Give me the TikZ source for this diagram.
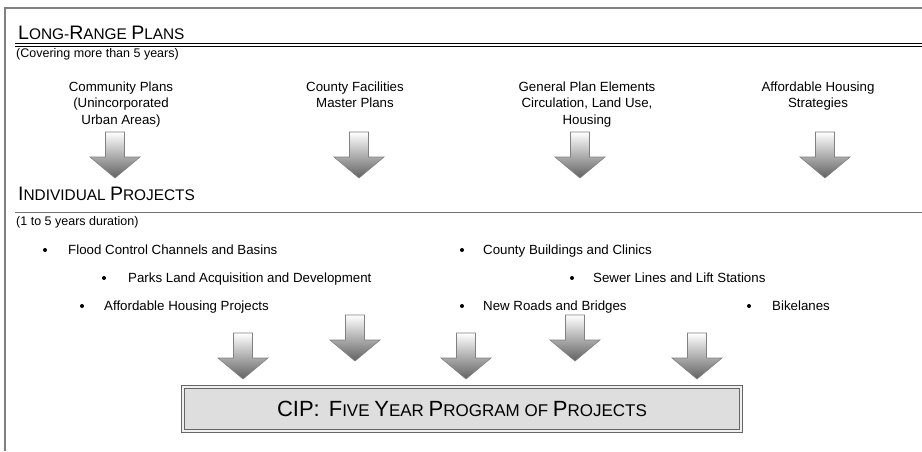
\documentclass[tikz,border=0pt]{standalone}
\usepackage{fontspec}
\setmainfont{Liberation Sans}
% fake small caps: capital size and small-letter size
\newcommand{\HdBig}{\fontsize{19.5}{20}\selectfont}
\newcommand{\HdSmall}{\fontsize{15.4}{16}\selectfont}
\newcommand{\CipBig}{\fontsize{22}{22}\selectfont}
\newcommand{\CipSmall}{\fontsize{17}{17}\selectfont}
% shaded block arrow pointing down: #1 = centre x, #2 = top y
\newcommand{\blockarrow}[2]{%
  \shade[blockarrowstyle]
    (#1-9.5,#2) -- (#1+9.5,#2) -- (#1+9.5,#2+25) -- (#1+25,#2+25)
    -- (#1,#2+46) -- (#1-25,#2+25) -- (#1-9.5,#2+25) -- cycle;}
\begin{document}
\begin{tikzpicture}[x=1pt,y=-1pt,
  frame/.style={draw=black!50,line width=1.3pt},
  rulea/.style={draw=black,line width=0.8pt},
  ruleb/.style={draw=black!55,line width=1.4pt},
  header/.style={anchor=base west,inner sep=0pt},
  note/.style={anchor=base west,inner sep=0pt,font=\fontsize{12.5}{14}\selectfont},
  plan/.style={anchor=base,inner sep=0pt,align=center,font=\fontsize{13.3}{16.5}\selectfont},
  item/.style={anchor=base west,inner sep=0pt,font=\fontsize{13.3}{16}\selectfont},
  bul/.style={circle,fill=black,inner sep=0pt,minimum size=4pt},
  blockarrowstyle/.style={top color=white,bottom color=black!62,draw=black!50,line width=0.6pt},
  cipbox/.style={draw=black!60,line width=0.9pt,double=black!6,double distance=1.6pt,
    fill=black!13,minimum width=558pt,minimum height=44pt,inner sep=0pt}
]
\useasboundingbox (0,0) rectangle (922,451);
\fill[white] (0,0) rectangle (922,451);

% outer frame (top and left edges)
\draw[frame] (5,451) -- (5,8) -- (922,8);

% ---- long-range plans ----
\node[header] (lrp) at (18,39)
  {{\HdBig L}{\HdSmall ONG-}{\HdBig R}{\HdSmall ANGE }{\HdBig P}{\HdSmall LANS}};
\draw[rulea] (15,43.5) -- (922,43.5);
\draw[rulea] (15,46.5) -- (922,46.5);
\node[note] (lrpnote) at (16,57) {(Covering more than 5 years)};

% plan texts: anchored at the baseline of their last line
\node[plan] (p1) at (121,124) {Community Plans\\(Unincorporated\\Urban Areas)};
\node[plan] (p2) at (355,107.5) {County Facilities\\Master Plans};
\node[plan] (p3) at (587,124) {General Plan Elements\\Circulation, Land Use,\\Housing};
\node[plan] (p4) at (818,107.5) {Affordable Housing\\Strategies};

\blockarrow{115}{132}
\blockarrow{359}{132}
\blockarrow{580}{132}
\blockarrow{825}{132}

% ---- individual projects ----
\node[header] (ip) at (18,200)
  {{\HdBig I}{\HdSmall NDIVIDUAL }{\HdBig P}{\HdSmall ROJECTS}};
\draw[ruleb] (15,212.5) -- (922,212.5);
\node[note] (ipnote) at (16,225) {(1 to 5 years duration)};

\node[bul] (d1) at (45,250) {};
\node[item] (t1) at (68,254) {Flood Control Channels and Basins};
\node[bul] (d2) at (462,250) {};
\node[item] (t2) at (483,254) {County Buildings and Clinics};
\node[bul] (d3) at (104,278) {};
\node[item] (t3) at (128,282) {Parks Land Acquisition and Development};
\node[bul] (d4) at (572,278) {};
\node[item] (t4) at (593,282) {Sewer Lines and Lift Stations};
\node[bul] (d5) at (82,306) {};
\node[item] (t5) at (104,310) {Affordable Housing Projects};
\node[bul] (d6) at (462,306) {};
\node[item] (t6) at (483,310) {New Roads and Bridges};
\node[bul] (d7) at (749,306) {};
\node[item] (t7) at (772,310) {Bikelanes};

\blockarrow{243}{333}
\blockarrow{355}{315}
\blockarrow{466}{333}
\blockarrow{575}{315}
\blockarrow{697}{333}

% ---- five year program ----
\node[cipbox] (cip) at (462,409)
  {{\CipBig CIP:}\hspace{9pt}{\CipBig F}{\CipSmall IVE }{\CipBig Y}{\CipSmall EAR }{\CipBig P}{\CipSmall ROGRAM OF }{\CipBig P}{\CipSmall ROJECTS}};
\end{tikzpicture}
\end{document}
